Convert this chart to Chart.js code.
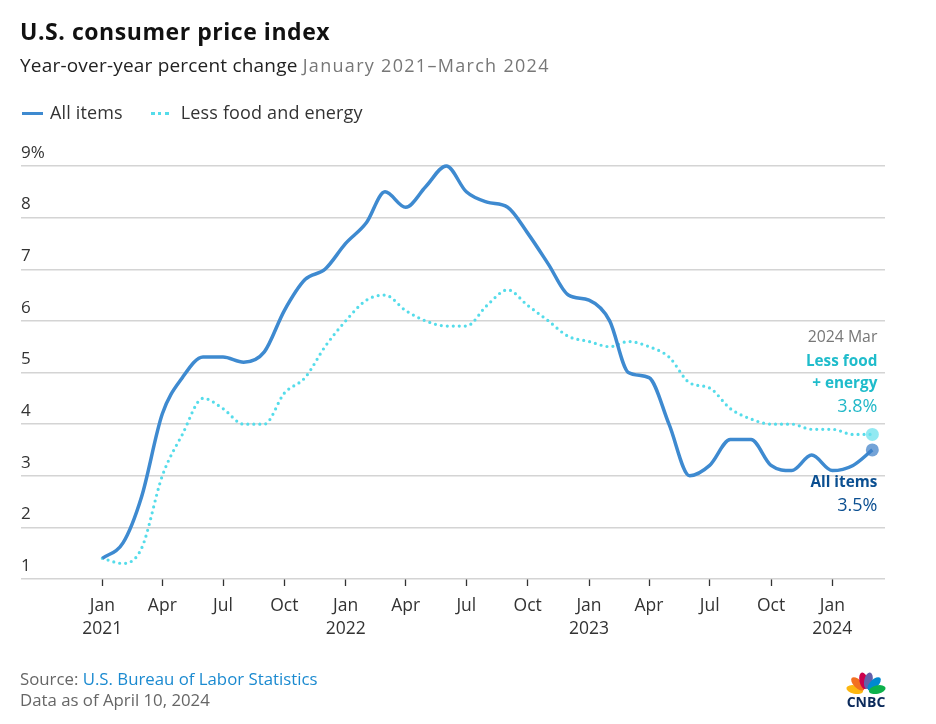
<!DOCTYPE html>
<html>
<head>
<meta charset="utf-8">
<script src="https://cdn.jsdelivr.net/npm/chart.js@4.4.1/dist/chart.umd.min.js"></script>
<style>
  body { margin: 0; background: #fff; font-family: "Open Sans", Lato, sans-serif; }
  #wrap { position: relative; width: 936px; height: 724px; }
  #chartLine { position: absolute; left: 0; top: 0; }
  .txt { position: absolute; white-space: nowrap; line-height: 1; }
  #title { left: 20px; top: 20px; font-size: 23px; font-weight: 700; color: #111; letter-spacing: 0.55px; }
  #sub { left: 20px; top: 56px; font-size: 19px; color: #222; letter-spacing: 0.2px; }
  #sub span { font-size: 18px; color: #777; letter-spacing: 1.3px; }
  #legend { left: 20px; top: 103px; font-size: 18px; color: #333; letter-spacing: 0.15px; }
  .sw { display: inline-block; height: 0; vertical-align: middle; position: relative; top: -1px; }
  .sw.solid { border-top: 3.5px solid #3e8ad0; width: 21px; margin-left: 2px; margin-right: 7px; }
  .sw.dot { border-top: 3px dotted #55dcea; width: 18px; margin-left: 28px; margin-right: 12px; }
  #src { left: 20px; top: 671px; font-size: 16.8px; color: #666; }
  #src span { color: #1b8ad0; }
  #asof { left: 20px; top: 692px; font-size: 16.8px; color: #666; }
  #logo { position: absolute; left: 837px; top: 668px; }
</style>
</head>
<body>
<div id="wrap">
  <canvas id="chartLine"></canvas>
  <div class="txt" id="title">U.S. consumer price index</div>
  <div class="txt" id="sub">Year-over-year percent change <span>January 2021–March 2024</span></div>
  <div class="txt" id="legend"><span class="sw solid"></span>All items<span class="sw dot"></span>Less food and energy</div>
  <div class="txt" id="src">Source: <span>U.S. Bureau of Labor Statistics</span></div>
  <div class="txt" id="asof">Data as of April 10, 2024</div>
  <canvas id="logo" width="56" height="44"></canvas>
</div>
<script>
const months = [
  "2021-01","2021-02","2021-03","2021-04","2021-05","2021-06","2021-07","2021-08","2021-09","2021-10","2021-11","2021-12",
  "2022-01","2022-02","2022-03","2022-04","2022-05","2022-06","2022-07","2022-08","2022-09","2022-10","2022-11","2022-12",
  "2023-01","2023-02","2023-03","2023-04","2023-05","2023-06","2023-07","2023-08","2023-09","2023-10","2023-11","2023-12",
  "2024-01","2024-02","2024-03"
];
const allItems = [
  1.4, 1.7, 2.6, 4.2, 4.9, 5.3, 5.3, 5.2, 5.4, 6.2, 6.8, 7.0,
  7.5, 7.9, 8.5, 8.2, 8.6, 9.0, 8.5, 8.3, 8.2, 7.7, 7.1, 6.5,
  6.4, 6.0, 5.0, 4.9, 4.0, 3.0, 3.2, 3.7, 3.7, 3.2, 3.1, 3.4,
  3.1, 3.2, 3.5
];
const lessFoodEnergy = [
  1.4, 1.3, 1.6, 3.0, 3.8, 4.5, 4.3, 4.0, 4.0, 4.6, 4.9, 5.5,
  6.0, 6.4, 6.5, 6.2, 6.0, 5.9, 5.9, 6.3, 6.6, 6.3, 6.0, 5.7,
  5.6, 5.5, 5.6, 5.5, 5.3, 4.8, 4.7, 4.3, 4.1, 4.0, 4.0, 3.9,
  3.9, 3.8, 3.8
];
const xTicks = ["2021-01","2021-04","2021-07","2021-10","2022-01","2022-04","2022-07","2022-10",
                "2023-01","2023-04","2023-07","2023-10","2024-01"];
const xTickLabels = [["Jan","2021"],"Apr","Jul","Oct",["Jan","2022"],"Apr","Jul","Oct",
                     ["Jan","2023"],"Apr","Jul","Oct",["Jan","2024"]];
const yTicks = [1, 2, 3, 4, 5, 6, 7, 8, 9];

const BLUE = "#3e8ad0";
const CYAN = "#55dcea";
const FONT = "Open Sans";

// days since Jan 1 2021
function dayOffset(m) {
  const [y, mo] = m.split("-").map(Number);
  return (Date.UTC(y, mo - 1, 1) - Date.UTC(2021, 0, 1)) / 86400000;
}
function toPoints(vals) {
  return months.map((m, i) => ({ x: dayOffset(m), y: vals[i] }));
}
const lastOnly = (r) => months.map((m, i) => i === months.length - 1 ? r : 0);

const endLabels = {
  id: "endLabels",
  afterDatasetsDraw(chart) {
    const ctx = chart.ctx;
    const pA = chart.getDatasetMeta(0).data[months.length - 1];
    const pC = chart.getDatasetMeta(1).data[months.length - 1];
    const x = pC.x + 5;
    ctx.save();
    ctx.textAlign = "right";
    ctx.textBaseline = "middle";
    ctx.font = "15.8px " + FONT;
    ctx.fillStyle = "#777";
    ctx.fillText("2024 Mar", x, pC.y - 97);
    ctx.font = "bold 15.3px " + FONT;
    ctx.fillStyle = "#1fbccb";
    ctx.fillText("Less food", x, pC.y - 73);
    ctx.fillText("+ energy", x, pC.y - 51);
    ctx.font = "18px " + FONT;
    ctx.fillStyle = "#22b8c8";
    ctx.fillText(lessFoodEnergy[lessFoodEnergy.length - 1].toFixed(1) + "%", x, pC.y - 28);
    ctx.font = "bold 15.3px " + FONT;
    ctx.fillStyle = "#0b4f91";
    ctx.fillText("All items", x, pA.y + 33);
    ctx.font = "18px " + FONT;
    ctx.fillText(allItems[allItems.length - 1].toFixed(1) + "%", x, pA.y + 56);
    ctx.restore();
  }
};

const data = {
  datasets: [
    {
      label: "All items",
      data: toPoints(allItems),
      borderColor: BLUE,
      borderWidth: 3.5,
      cubicInterpolationMode: "monotone",
      pointRadius: lastOnly(6.5),
      pointBackgroundColor: "rgba(62,128,200,0.72)",
      pointBorderWidth: 0,
      pointHoverRadius: 0,
      clip: false,
    },
    {
      label: "Less food and energy",
      data: toPoints(lessFoodEnergy),
      borderColor: CYAN,
      borderWidth: 3.2,
      borderDash: [0, 6],
      borderCapStyle: "round",
      cubicInterpolationMode: "monotone",
      pointRadius: lastOnly(6.5),
      pointBackgroundColor: "rgba(110,225,238,0.75)",
      pointBorderWidth: 0,
      pointHoverRadius: 0,
      clip: false,
    }
  ]
};

const configLineChart = {
  type: "line",
  data,
  plugins: [endLabels],
  options: {
    responsive: true,
    maintainAspectRatio: false,
    animation: false,
    events: [],
    layout: { padding: { left: 21, right: 51, top: 166, bottom: 75 } },
    plugins: { legend: { display: false }, tooltip: { enabled: false } },
    scales: {
      x: {
        type: "linear",
        min: -122,
        max: 1174,
        afterBuildTicks: (scale) => { scale.ticks = xTicks.map(m => ({ value: dayOffset(m) })); },
        afterFit: (scale) => { scale.height = 70; },
        grid: { drawOnChartArea: false, drawTicks: true, tickLength: 7, tickColor: "#333", tickWidth: 1.3 },
        border: { display: false },
        ticks: {
          autoSkip: false,
          maxRotation: 0,
          padding: 9,
          color: "#333",
          font: { family: FONT, size: 17.5, lineHeight: 1.3 },
          callback: (v) => {
            const i = xTicks.findIndex(m => dayOffset(m) === v);
            return i >= 0 ? xTickLabels[i] : "";
          }
        }
      },
      y: {
        min: 1,
        max: 9,
        afterBuildTicks: (scale) => { scale.ticks = yTicks.map(v => ({ value: v })); },
        afterFit: (scale) => { scale.width = 0; },
        grid: { color: "#d4d4d4", lineWidth: 1.5, drawTicks: false },
        border: { display: false },
        ticks: {
          mirror: true,
          padding: 0,
          labelOffset: -13,
          color: "#333",
          font: { family: FONT, size: 17 },
          callback: (v) => v === 9 ? "9%" : String(v)
        }
      }
    }
  }
};

var chartLine = new Chart(document.getElementById("chartLine"), configLineChart);

// small peacock mark
(function () {
  const c = document.getElementById("logo").getContext("2d");
  const cols = ["#fcb711", "#f37021", "#cc004c", "#6460aa", "#0089d0", "#0db14b"];
  const angs = [-168, -135, -102, -78, -45, -12];
  const cx = 29, cy = 24;
  cols.forEach((col, i) => {
    const a = angs[i] * Math.PI / 180;
    c.save();
    c.translate(cx, cy);
    c.rotate(a + Math.PI / 2);
    c.beginPath();
    c.ellipse(0, -11.5, 4.2, 8.5, 0, 0, Math.PI * 2);
    c.fillStyle = col;
    c.fill();
    c.restore();
  });
  c.font = "bold 14px " + FONT;
  c.fillStyle = "#0b2a5b";
  c.textAlign = "center";
  c.fillText("CNBC", cx, 39);
})();
</script>
</body>
</html>
